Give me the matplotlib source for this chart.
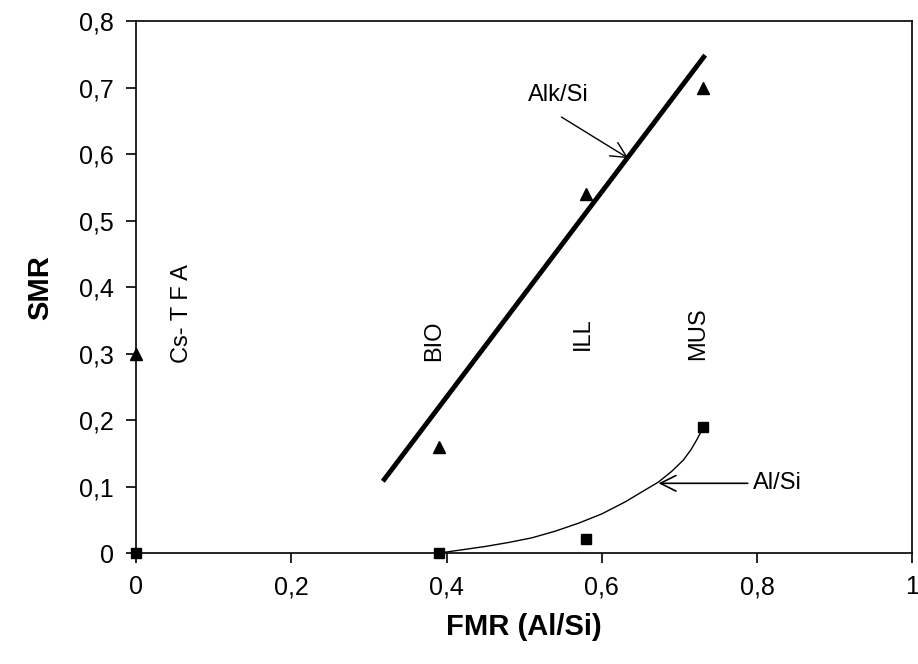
import numpy as np
import matplotlib.pyplot as plt

plt.rcParams['font.family'] = ['Liberation Sans', 'DejaVu Sans']

# measured points
fmr = [0.0, 0.39, 0.58, 0.73]
smr_alk = [0.30, 0.16, 0.54, 0.70]
smr_al = [0.0, 0.0, 0.021, 0.19]

# trend lines
alk_fit_x = [0.318, 0.733]
alk_fit_y = [0.108, 0.749]
al_fit_x = [0.39, 0.42, 0.45, 0.48, 0.51, 0.54, 0.57, 0.60, 0.63, 0.65, 0.673,
            0.69, 0.705, 0.715, 0.722, 0.727, 0.73]
al_fit_y = [0.0, 0.005, 0.010, 0.016, 0.023, 0.033, 0.045, 0.059, 0.077, 0.091, 0.107,
            0.123, 0.140, 0.156, 0.170, 0.181, 0.19]

# mineral labels
minerals = ["Cs- T F A", "BIO", "ILL", "MUS"]
mineral_x = [0.06, 0.384, 0.576, 0.724]
mineral_y = [0.36, 0.32, 0.33, 0.33]

fig = plt.figure(figsize=(9.18, 6.64), dpi=100)
ax = fig.add_axes([0.148, 0.167, 0.846, 0.801])

ax.plot(alk_fit_x, alk_fit_y, color="black", lw=3.5, solid_capstyle="butt")
ax.plot(al_fit_x, al_fit_y, color="black", lw=1.0)
ax.plot(fmr, smr_alk, "^", color="black", ms=8, clip_on=False)
ax.plot(fmr, smr_al, "s", color="black", ms=7, clip_on=False)

for name, x, y in zip(minerals, mineral_x, mineral_y):
    ax.text(x, y, name, rotation=90, ha="center", va="center", fontsize=17)

ax.annotate("Alk/Si", xy=(0.634, 0.594), xytext=(0.505, 0.689),
            fontsize=17, va="center", ha="left",
            arrowprops=dict(arrowstyle="->", color="black", lw=1.0,
                            mutation_scale=28, shrinkA=0, shrinkB=0,
                            relpos=(0.55, -0.5)))
ax.annotate("Al/Si", xy=(0.673, 0.105), xytext=(0.795, 0.105),
            fontsize=17, va="center", ha="left",
            arrowprops=dict(arrowstyle="->", color="black", lw=1.2,
                            mutation_scale=28, shrinkA=2, shrinkB=0))

ax.set_xlim(0, 1)
ax.set_ylim(0, 0.8)
ax.set_xticks(np.arange(0, 1.01, 0.2))
ax.set_yticks(np.arange(0, 0.81, 0.1))
ax.set_xticklabels(["0", "0,2", "0,4", "0,6", "0,8", "1"])
ax.set_yticklabels(["0", "0,1", "0,2", "0,3", "0,4", "0,5", "0,6", "0,7", "0,8"])
ax.tick_params(direction="out", length=7, width=1.2, labelsize=18, pad=9, color="black")
for s in ax.spines.values():
    s.set_linewidth(1.2)

ax.set_xlabel("FMR (Al/Si)", fontsize=21, fontweight="bold", labelpad=10)
ax.set_ylabel("SMR", fontsize=21, fontweight="bold", labelpad=18)

fig.savefig("out.png", dpi=100)
